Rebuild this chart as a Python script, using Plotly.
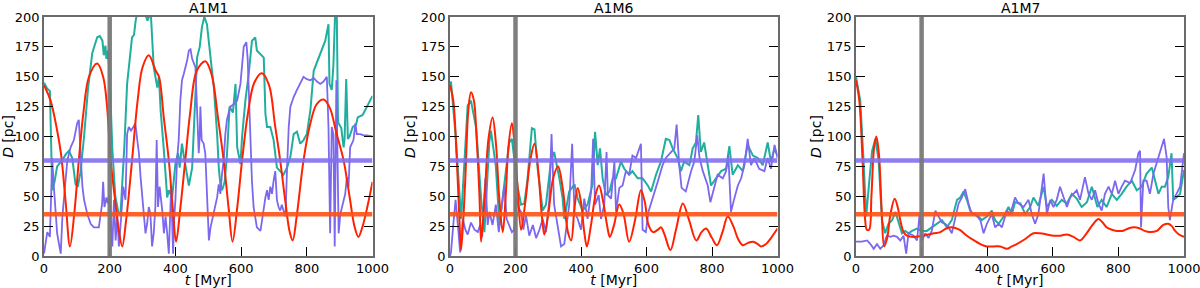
import plotly.graph_objects as go

panel_titles = ["A1M1", "A1M6", "A1M7"]
x_ticks = [0, 200, 400, 600, 800, 1000]
y_ticks = [0, 25, 50, 75, 100, 125, 150, 175, 200]
ref_orange = 35
ref_purple = 80
marker_t = 200

# ---------------- A1M1 ----------------
a1m1_red_t = [0, 20, 40, 52, 66, 79, 92, 106, 120, 137, 162, 180, 192, 203, 215, 226, 238, 250, 268, 285, 300, 319,
              340, 350, 365, 380, 392, 402, 415, 430, 445, 465, 491, 510, 530, 547, 562, 574, 588, 603, 620, 640, 663,
              685, 703, 719, 735, 748, 757, 770, 790, 810, 830, 851, 870, 890, 912, 930, 945, 957, 970, 985, 1000]
a1m1_red_d = [143, 130, 105, 85, 45, 8, 35, 80, 120, 150, 161, 150, 125, 80, 50, 25, 8, 30, 80, 130, 158, 168,
              155, 150, 115, 80, 40, 12, 40, 80, 120, 155, 163, 152, 115, 80, 40, 12, 40, 80, 118, 145, 153,
              143, 110, 80, 45, 20, 13, 35, 80, 110, 127, 131, 124, 103, 80, 50, 25, 16, 25, 42, 62]

a1m1_teal_t = [0, 10, 18, 25, 32, 40, 55, 66, 76, 86, 96, 103, 111, 122, 134, 147, 162, 170, 178, 182, 187, 190, 195,
               200, 208, 217, 226, 233, 245, 253, 268, 274, 279, 284, 295, 305, 315, 325, 334, 345, 350, 355, 365,
               370, 375, 380, 390, 400, 408, 413, 420, 426, 436, 441, 451, 461, 466, 474, 481, 488, 496, 507, 517,
               527, 532, 537, 542, 550, 557, 565, 575, 583, 588, 598, 603, 613, 623, 633, 643, 648, 659, 669, 674,
               679, 689, 699, 709, 719, 729, 740, 750, 760, 770, 780, 790, 800, 811, 821, 836, 846, 856, 866, 869,
               876, 881, 887, 891, 895, 905, 912, 915, 920, 925, 930, 940, 950, 955, 970, 990, 1000]
a1m1_teal_d = [145, 140, 138, 55, 62, 75, 80, 85, 88, 82, 60, 58, 70, 100, 140, 170, 183, 184, 180, 168, 176, 165, 172,
               150, 90, 50, 37, 35, 94, 144, 183, 185, 197, 204, 202, 205, 197, 204, 158, 141, 150, 122, 88,
               69, 49, 55, 49, 77, 86, 74, 94, 83, 66, 59, 74, 130, 166, 175, 192, 200, 194, 166, 141,
               102, 74, 60, 55, 62, 85, 125, 120, 144, 91, 77, 100, 130, 152, 180, 183, 172, 169, 166, 119,
               108, 108, 97, 74, 71, 68, 74, 83, 102, 104, 94, 97, 102, 122, 155, 166, 172, 180, 194, 144,
               139, 160, 210, 210, 112, 107, 91, 98, 148, 98, 100, 108, 110, 116, 118, 129, 134]

a1m1_purple_t = [0, 10, 18, 25, 30, 40, 51, 56, 63, 71, 81, 91, 101, 106, 111, 117, 122, 132, 142, 152, 167, 172, 177,
                 180, 184, 190, 194, 198, 208, 213, 218, 223, 228, 235, 241, 248, 253, 258, 265, 272, 278, 284, 289,
                 294, 299, 304, 309, 314, 319, 324, 329, 334, 339, 343, 347, 352, 360, 365, 370, 375, 380, 387, 393,
                 396, 400, 405, 410, 415, 420, 426, 431, 436, 441, 446, 451, 456, 461, 466, 471, 474, 476, 480, 486,
                 491, 496, 502, 507, 517, 527, 532, 537, 542, 547, 552, 557, 567, 578, 588, 598, 608, 616, 620, 623,
                 628, 633, 638, 648, 659, 669, 674, 679, 684, 689, 694, 699, 704, 709, 714, 719, 724, 729, 735, 740,
                 745, 750, 760, 770, 780, 790, 800, 811, 821, 831, 841, 851, 861, 866, 871, 876, 881, 885, 890, 894,
                 897, 902, 907, 912, 917, 922, 927, 932, 937, 942, 948, 952, 963, 973, 983, 1000]
a1m1_purple_d = [2, 20, 16, 82, 58, 19, 2, 33, 55, 80, 91, 97, 111, 114, 88, 58, 47, 35, 27, 24, 24, 33, 44,
                 62, 41, 49, 44, 50, 8, 47, 13, 33, 8, 33, 58, 47, 102, 108, 105, 108, 111, 97, 86,
                 66, 52, 35, 19, 27, 41, 35, 8, 19, 41, 97, 41, 58, 38, 19, 33, 19, 2, 58, 2,
                 30, 47, 80, 97, 130, 147, 153, 158, 164, 172, 173, 165, 161, 158, 122, 86, 100, 125, 97, 94,
                 86, 58, 13, 24, 38, 49, 60, 52, 69, 80, 102, 114, 125, 127, 130, 144, 175, 179, 165, 141,
                 108, 63, 41, 24, 21, 41, 49, 55, 47, 58, 52, 63, 71, 47, 41, 38, 43, 38, 33, 74,
                 108, 125, 133, 139, 144, 150, 148, 147, 149, 146, 144, 146, 150, 108, 19, 108, 102, 8, 147, 60,
                 19, 35, 41, 47, 52, 66, 58, 91, 94, 97, 111, 102, 102, 101, 101, 100]

# ---------------- A1M6 ----------------
a1m6_red_t = [0, 10, 20, 28, 34, 46, 56, 64, 73, 81, 90, 95, 107, 117, 130, 140, 150, 161, 170, 178, 189, 198, 207,
              217, 230, 245, 258, 270, 280, 288, 300, 315, 330, 345, 360, 370, 380, 390, 400, 410, 418, 430, 445,
              455, 468, 480, 488, 500, 517, 530, 547, 565, 583, 595, 606, 620, 635, 644, 655, 673, 690, 711, 730,
              752, 768, 782, 800, 815, 832, 848, 865, 880, 894, 910, 925, 940, 950, 965, 980, 1000]
a1m6_red_d = [143, 130, 85, 35, 5, 60, 122, 137, 130, 100, 50, 12, 55, 97, 116, 95, 50, 20, 50, 90, 111, 90, 55,
              22, 45, 80, 94, 70, 35, 18, 35, 65, 75, 55, 20, 13, 40, 57, 45, 20, 8, 25, 52,
              59, 45, 25, 16, 25, 43, 35, 12, 30, 55, 45, 26, 20, 22, 24, 18, 5, 22, 44, 30,
              13, 20, 23, 15, 9, 20, 33, 25, 14, 9, 11, 12, 10, 8, 10, 15, 23]

a1m6_teal_t = [0, 3, 18, 34, 54, 64, 80, 95, 105, 120, 125, 140, 151, 181, 189, 207, 217, 227, 237, 250, 258, 268,
               283, 293, 308, 318, 334, 344, 349, 364, 380, 390, 405, 420, 435, 443, 451, 458, 466, 476, 487, 497,
               507, 522, 532, 547, 557, 573, 588, 604, 614, 629, 644, 659, 670, 680, 695, 705, 715, 731, 741, 751,
               758, 766, 776, 787, 797, 812, 828, 843, 853, 863, 879, 894, 909, 925, 940, 955, 970, 980, 991, 1000]
a1m6_teal_d = [143, 146, 98, 31, 126, 130, 107, 48, 20, 95, 105, 75, 26, 95, 98, 57, 43, 44, 65, 107, 106, 72,
               38, 43, 79, 87, 65, 48, 31, 54, 60, 48, 38, 43, 60, 104, 76, 90, 65, 51, 54, 65,
               65, 79, 73, 68, 71, 65, 65, 59, 54, 68, 79, 98, 97, 90, 82, 71, 79, 76, 90, 95,
               118, 87, 95, 76, 59, 65, 71, 73, 92, 68, 76, 71, 93, 84, 82, 76, 95, 79, 90, 84]

a1m6_purple_t = [0, 3, 10, 17, 24, 31, 39, 47, 54, 64, 75, 85, 92, 98, 108, 115, 120, 130, 140, 149, 156, 166, 173,
                 181, 189, 196, 202, 210, 217, 224, 232, 242, 253, 263, 273, 283, 293, 303, 310, 318, 329, 339, 349,
                 357, 364, 373, 380, 390, 400, 410, 420, 431, 437, 443, 454, 461, 471, 478, 482, 492, 502, 507, 517,
                 527, 537, 547, 557, 568, 578, 583, 588, 598, 606, 619, 634, 649, 659, 675, 685, 692, 700, 707, 720,
                 736, 746, 755, 762, 772, 787, 795, 807, 817, 833, 843, 850, 858, 868, 879, 889, 899, 909, 919, 929,
                 944, 960, 970, 980, 991, 1000]
a1m6_purple_d = [0, 3, 26, 47, 26, 3, 31, 22, 18, 28, 22, 20, 26, 16, 65, 26, 37, 26, 43, 20, 37, 59, 31,
                 26, 20, 22, 50, 40, 37, 22, 34, 17, 26, 15, 22, 31, 20, 46, 102, 43, 26, 8, 10,
                 28, 43, 94, 37, 31, 22, 48, 31, 54, 98, 43, 51, 31, 43, 87, 51, 48, 79, 37, 57,
                 59, 71, 68, 84, 82, 90, 94, 22, 20, 37, 48, 62, 76, 82, 87, 90, 110, 76, 57, 54,
                 71, 79, 101, 82, 71, 59, 45, 57, 68, 65, 71, 84, 37, 48, 59, 65, 76, 98, 76, 82,
                 73, 71, 82, 73, 93, 82]

# ---------------- A1M7 ----------------
a1m7_red_t = [0, 10, 20, 28, 33, 40, 47, 55, 62, 70, 78, 86, 95, 105, 118, 128, 135, 145, 155, 176, 206, 237, 257,
              275, 292, 315, 338, 360, 379, 399, 420, 440, 460, 475, 490, 515, 541, 561, 582, 602, 623, 643, 663,
              683, 703, 724, 739, 752, 764, 780, 795, 812, 830, 846, 866, 880, 896, 917, 937, 952, 963, 973, 985, 1000]
a1m7_red_d = [147, 130, 80, 30, 22, 22, 50, 90, 100, 85, 40, 8, 15, 35, 48, 40, 30, 20, 17, 16, 17, 19, 20,
              23, 24, 22, 17, 13, 10, 8, 8, 8, 6, 8, 10, 14, 19, 19, 18, 17, 17, 18, 16,
              13, 19, 27, 31, 28, 24, 22, 21, 21, 23, 24, 23, 21, 20, 21, 26, 27, 25, 21, 18, 16]

a1m7_teal_t = [0, 13, 23, 31, 39, 49, 59, 69, 79, 89, 99, 110, 120, 130, 140, 150, 160, 171, 186, 201, 216, 231, 247,
               262, 277, 292, 308, 318, 328, 338, 348, 358, 374, 383, 399, 414, 424, 435, 450, 465, 475, 485, 501,
               516, 531, 541, 556, 572, 582, 597, 612, 627, 643, 658, 673, 688, 704, 719, 736, 749, 764, 780, 795,
               810, 825, 841, 856, 871, 886, 902, 912, 922, 932, 942, 952, 962, 967, 977, 988, 1000]
a1m7_teal_d = [150, 130, 80, 33, 58, 88, 98, 80, 30, 19, 27, 30, 37, 27, 19, 21, 19, 21, 23, 21, 21, 24, 27,
               30, 24, 30, 47, 49, 54, 47, 38, 35, 33, 30, 33, 38, 30, 27, 33, 41, 35, 45, 44,
               35, 41, 49, 42, 58, 41, 47, 42, 47, 44, 52, 48, 41, 45, 58, 41, 47, 41, 52, 47,
               52, 58, 63, 55, 58, 69, 74, 63, 52, 58, 58, 66, 86, 47, 49, 52, 72]

a1m7_purple_t = [0, 18, 34, 44, 54, 64, 74, 84, 94, 105, 115, 125, 135, 145, 153, 160, 176, 186, 194, 201, 211, 221,
                 231, 242, 252, 262, 272, 282, 292, 303, 313, 323, 333, 343, 353, 363, 379, 389, 399, 414, 424, 435,
                 445, 460, 470, 485, 495, 511, 526, 536, 546, 556, 566, 572, 582, 592, 602, 612, 622, 632, 643, 653,
                 663, 673, 683, 698, 709, 719, 729, 739, 749, 759, 770, 780, 790, 800, 810, 820, 836, 851, 861, 866,
                 869, 876, 886, 896, 907, 922, 932, 939, 947, 952, 957, 967, 977, 988, 1000]
a1m7_purple_d = [12, 12, 13, 10, 6, 10, 6, 9, 17, 16, 17, 16, 13, 17, 2, 19, 17, 13, 35, 13, 19, 15,
                 21, 38, 33, 28, 27, 24, 19, 33, 44, 49, 56, 44, 35, 35, 30, 19, 27, 35, 24, 27,
                 24, 38, 35, 49, 44, 41, 47, 35, 27, 35, 58, 69, 35, 47, 41, 47, 58, 49, 41, 49,
                 52, 55, 47, 66, 52, 47, 55, 44, 38, 52, 58, 52, 63, 52, 58, 63, 61, 72, 86, 88,
                 24, 63, 63, 52, 69, 83, 91, 98, 83, 41, 30, 47, 52, 58, 86]

panels = [
    (a1m1_teal_t, a1m1_teal_d, a1m1_purple_t, a1m1_purple_d, a1m1_red_t, a1m1_red_d),
    (a1m6_teal_t, a1m6_teal_d, a1m6_purple_t, a1m6_purple_d, a1m6_red_t, a1m6_red_d),
    (a1m7_teal_t, a1m7_teal_d, a1m7_purple_t, a1m7_purple_d, a1m7_red_t, a1m7_red_d),
]

TEAL = "#20ae9e"
PURPLE = "#7b68ee"
RED = "#ff2200"
FONT = "DejaVu Sans"

W, H = 1200, 288
ML, MR, MT, MB = 44, 16, 17, 32
pw = W - ML - MR
px_domains = [(44, 372.5), (450, 777.5), (856, 1184)]
domains = [((a - ML) / pw, (b - ML) / pw) for a, b in px_domains]

fig = go.Figure()
for i, (tt, td, pt, pd_, rt, rd) in enumerate(panels):
    sfx = "" if i == 0 else str(i + 1)
    xa, ya = "x" + sfx, "y" + sfx
    fig.add_trace(go.Scatter(x=tt, y=td, mode="lines", line=dict(color=TEAL, width=2),
                             xaxis=xa, yaxis=ya, showlegend=False, hoverinfo="skip"))
    fig.add_trace(go.Scatter(x=pt, y=pd_, mode="lines", line=dict(color=PURPLE, width=1.8),
                             xaxis=xa, yaxis=ya, showlegend=False, hoverinfo="skip"))
    fig.add_trace(go.Scatter(x=rt, y=rd, mode="lines", line=dict(color=RED, width=2, shape="spline", smoothing=1.0),
                             xaxis=xa, yaxis=ya, showlegend=False, hoverinfo="skip"))
    # reference lines and marker
    fig.add_shape(type="line", xref=xa, yref=ya, x0=0, x1=1000, y0=ref_orange, y1=ref_orange,
                  line=dict(color="rgba(255,80,20,0.9)", width=4.5), layer="above")
    fig.add_shape(type="line", xref=xa, yref=ya, x0=0, x1=1000, y0=ref_purple, y1=ref_purple,
                  line=dict(color="rgba(130,112,238,0.9)", width=4.5), layer="above")
    fig.add_shape(type="line", xref=xa, yref=ya, x0=marker_t, x1=marker_t, y0=0, y1=200,
                  line=dict(color="rgba(120,120,120,0.95)", width=4.5), layer="above")

    axis_common = dict(ticks="inside", ticklen=9, tickwidth=1.3, tickcolor="black",
                       showline=True, linecolor="#6a6a6a", linewidth=1.5, showgrid=False, zeroline=False,
                       automargin=False, ticklabeloverflow="allow",
                       tickfont=dict(family=FONT, size=13, color="black"))
    fig.layout["xaxis" + sfx] = dict(domain=list(domains[i]), range=[0, 1000], tickvals=x_ticks,
                                     mirror=True, anchor=ya,
                                     title=dict(text="<i>t</i> [Myr]", font=dict(family=FONT, size=14, color="black"),
                                                standoff=0),
                                     **axis_common)
    fig.layout["yaxis" + sfx] = dict(domain=[0, 1], range=[0, 200], tickvals=y_ticks,
                                     mirror="ticks", anchor=xa,
                                     title=dict(text="<i>D</i> [pc]", font=dict(family=FONT, size=14, color="black"),
                                                standoff=2),
                                     **axis_common)
    fig.add_annotation(text=panel_titles[i], xref="paper", yref="paper",
                       x=(domains[i][0] + domains[i][1]) / 2, y=1, yanchor="bottom", xanchor="center",
                       showarrow=False, font=dict(family=FONT, size=14, color="black"), yshift=-1)

fig.update_layout(width=W, height=H, margin=dict(l=ML, r=MR, t=MT, b=MB),
                  plot_bgcolor="white", paper_bgcolor="white", hovermode=False)

fig.write_html("out.html", config={"displayModeBar": False},
               post_script="document.body.style.margin='0';document.body.style.overflow='hidden';")
